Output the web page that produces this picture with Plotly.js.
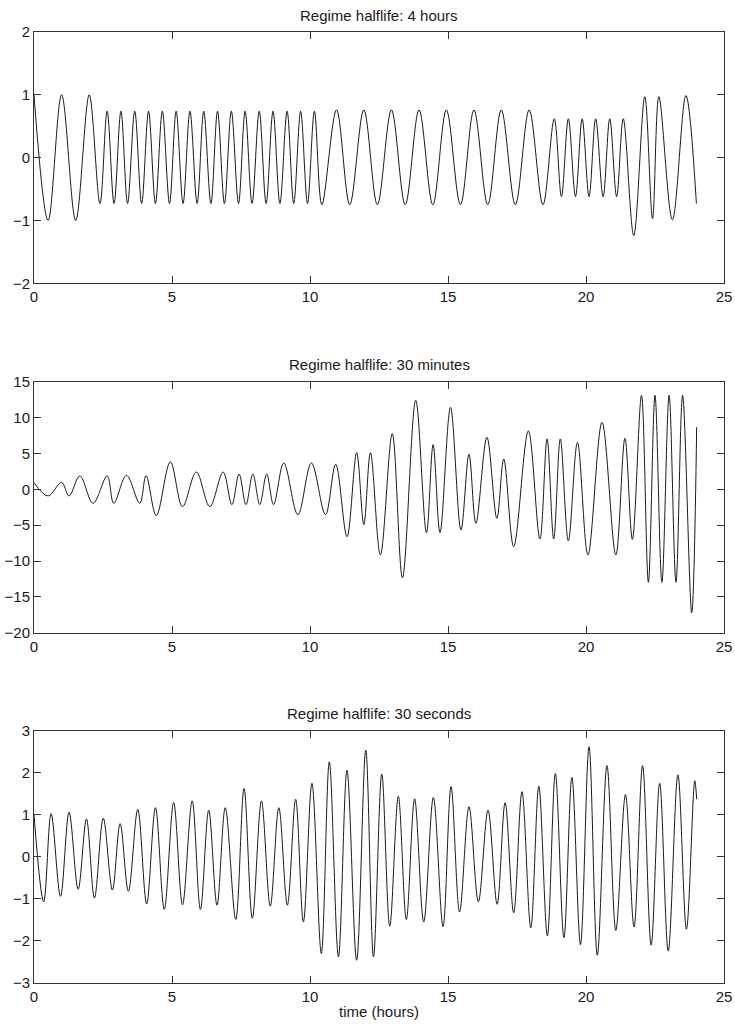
<!DOCTYPE html>
<html>
<head>
<meta charset="utf-8">
<script src="https://cdn.plot.ly/plotly-3.0.1.min.js"></script>
<style>html,body{margin:0;padding:0;background:#fff;}#chart{width:735px;height:1026px;}</style>
</head>
<body>
<div id="chart"></div>
<script>
// Regime halflife: 4 hours (extrema)
var h4Time = [0, 0.51, 1.0, 1.51, 2.0, 2.39, 2.65, 2.90, 3.15, 3.39, 3.65, 3.90, 4.15, 4.40, 4.65, 4.91, 5.15, 5.40, 5.65, 5.91, 6.15, 6.41, 6.65, 6.90, 7.15, 7.41, 7.65, 7.90, 8.16, 8.41, 8.66, 8.91, 9.17, 9.41, 9.66, 9.91, 10.16, 10.43, 10.96, 11.44, 11.95, 12.44, 12.95, 13.45, 13.95, 14.45, 14.94, 15.45, 15.94, 16.44, 16.93, 17.44, 17.94, 18.44, 18.85, 19.11, 19.36, 19.62, 19.86, 20.11, 20.35, 20.62, 20.86, 21.11, 21.35, 21.73, 22.13, 22.41, 22.64, 23.13, 23.62, 24.0];
var h4Value = [1, -1, 1, -1, 1, -0.73, 0.74, -0.73, 0.74, -0.73, 0.74, -0.73, 0.74, -0.73, 0.74, -0.73, 0.74, -0.73, 0.74, -0.73, 0.74, -0.73, 0.74, -0.73, 0.74, -0.73, 0.74, -0.73, 0.74, -0.73, 0.74, -0.73, 0.74, -0.73, 0.74, -0.73, 0.74, -0.75, 0.76, -0.75, 0.76, -0.75, 0.76, -0.75, 0.76, -0.75, 0.76, -0.75, 0.76, -0.75, 0.76, -0.75, 0.76, -0.75, 0.62, -0.62, 0.62, -0.62, 0.62, -0.62, 0.62, -0.62, 0.62, -0.62, 0.62, -1.24, 0.97, -0.97, 0.97, -0.99, 0.99, -0.73];

// Regime halflife: 30 minutes
var m30Time = [0, 0.51, 1.0, 1.27, 1.66, 2.14, 2.65, 2.89, 3.35, 3.83, 4.06, 4.43, 4.94, 5.38, 5.88, 6.37, 6.85, 7.17, 7.43, 7.68, 7.93, 8.18, 8.43, 8.68, 9.05, 9.56, 10.05, 10.56, 10.93, 11.34, 11.69, 11.95, 12.19, 12.55, 12.98, 13.35, 13.83, 14.22, 14.46, 14.71, 15.09, 15.47, 15.76, 16.01, 16.41, 16.77, 17.02, 17.38, 17.91, 18.33, 18.59, 18.83, 19.07, 19.36, 19.69, 20.07, 20.58, 21.08, 21.41, 21.68, 22.01, 22.26, 22.50, 22.75, 23.01, 23.26, 23.50, 23.83, 24.01];
var m30Value = [0.92, -0.93, 0.97, -0.93, 1.86, -1.95, 1.86, -1.95, 1.95, -1.95, 1.9, -3.68, 3.81, -2.42, 2.41, -2.42, 2.41, -2.14, 2.13, -2.14, 2.13, -2.14, 2.13, -2.14, 3.67, -3.54, 3.67, -3.54, 3.49, -6.61, 5.1, -4.93, 5.1, -9.16, 7.75, -12.33, 12.41, -6.05, 6.22, -6.05, 11.43, -5.68, 4.88, -4.75, 7.25, -4.05, 4.23, -8.0, 8.13, -6.93, 7.02, -6.93, 7.02, -7.2, 6.55, -9.16, 9.34, -9.16, 7.11, -6.98, 13.1, -12.97, 13.1, -12.97, 13.1, -12.97, 13.1, -17.2, 8.65];

// Regime halflife: 30 seconds
var s30Time = [0, 0.35, 0.62, 0.96, 1.27, 1.60, 1.90, 2.19, 2.51, 2.84, 3.12, 3.42, 3.76, 4.08, 4.40, 4.72, 5.06, 5.38, 5.73, 6.03, 6.33, 6.63, 6.93, 7.31, 7.61, 7.91, 8.24, 8.56, 8.87, 9.18, 9.48, 9.76, 10.07, 10.41, 10.70, 11.03, 11.34, 11.69, 12.02, 12.30, 12.60, 12.89, 13.20, 13.49, 13.79, 14.12, 14.47, 14.82, 15.11, 15.42, 15.76, 16.10, 16.45, 16.78, 17.07, 17.38, 17.68, 18.00, 18.29, 18.60, 18.89, 19.20, 19.49, 19.80, 20.11, 20.41, 20.76, 21.08, 21.43, 21.74, 22.05, 22.36, 22.67, 22.98, 23.33, 23.64, 23.94, 24.01];
var s30Value = [1.0, -1.07, 1.03, -0.94, 1.06, -0.77, 0.9, -0.98, 0.92, -0.79, 0.79, -0.82, 1.13, -1.12, 1.17, -1.25, 1.29, -1.14, 1.33, -1.25, 1.11, -1.15, 1.17, -1.49, 1.63, -1.46, 1.33, -1.17, 1.17, -1.15, 1.37, -1.55, 1.75, -2.30, 2.26, -2.38, 2.06, -2.46, 2.54, -2.38, 1.97, -1.65, 1.44, -1.49, 1.38, -1.55, 1.41, -1.66, 1.67, -1.31, 1.19, -1.07, 1.11, -1.13, 1.29, -1.33, 1.55, -1.69, 1.68, -1.88, 1.98, -1.92, 1.89, -2.09, 2.62, -2.34, 2.17, -1.75, 1.48, -1.67, 2.17, -2.10, 1.75, -2.24, 1.95, -1.72, 1.81, 1.37];

var xTicks = [0, 5, 10, 15, 20, 25];
var yTicks1 = [-2, -1, 0, 1, 2];
var yTicks2 = [-20, -15, -10, -5, 0, 5, 10, 15];
var yTicks3 = [-3, -2, -1, 0, 1, 2, 3];
var titles = ['Regime halflife: 4 hours', 'Regime halflife: 30 minutes', 'Regime halflife: 30 seconds'];
var xTitle = 'time (hours)';

var lineStyle = {color: '#1a1a1a', width: 1, shape: 'spline', smoothing: 1};
var traces = [
  {x: h4Time, y: h4Value, xaxis: 'x', yaxis: 'y'},
  {x: m30Time, y: m30Value, xaxis: 'x2', yaxis: 'y2'},
  {x: s30Time, y: s30Value, xaxis: 'x3', yaxis: 'y3'}
].map(function (t) {
  t.type = 'scatter'; t.mode = 'lines'; t.line = lineStyle; t.hoverinfo = 'skip';
  return t;
});

var font = {family: '"Liberation Sans", Arial, Helvetica, sans-serif', size: 15, color: '#1a1a1a'};
function xax(anchor, extra) {
  var a = {anchor: anchor, domain: [0, 1], range: [0, 25], tickvals: xTicks, ticks: 'inside', ticklen: 7,
    tickcolor: '#333', showline: true, linecolor: '#333', linewidth: 1, mirror: 'ticks',
    showgrid: false, zeroline: false, tickfont: font, fixedrange: true};
  for (var k in extra) a[k] = extra[k];
  return a;
}
function yax(anchor, domain, range, ticks) {
  return {anchor: anchor, domain: domain, range: range, tickvals: ticks, ticks: 'inside', ticklen: 7,
    tickcolor: '#333', showline: true, linecolor: '#333', linewidth: 1, mirror: 'ticks',
    showgrid: false, zeroline: false, tickfont: font, fixedrange: true};
}
var domains = [[0.7357, 1], [0.3683, 0.6323], [0, 0.2653]];
var layout = {
  width: 735, height: 1026,
  margin: {l: 34, r: 11, t: 32, b: 43},
  paper_bgcolor: '#fff', plot_bgcolor: '#fff',
  showlegend: false,
  font: font,
  xaxis: xax('y', {}),
  yaxis: yax('x', domains[0], [-2, 2], yTicks1),
  xaxis2: xax('y2', {}),
  yaxis2: yax('x2', domains[1], [-20, 15], yTicks2),
  xaxis3: xax('y3', {title: {text: xTitle, font: font, standoff: 2}}),
  yaxis3: yax('x3', domains[2], [-3, 3], yTicks3),
  annotations: titles.map(function (txt, i) {
    return {text: txt, xref: 'paper', yref: 'paper', x: 0.5, y: domains[i][1], xanchor: 'center',
      yanchor: 'middle', yshift: 17, showarrow: false, font: font};
  })
};
Plotly.newPlot('chart', traces, layout, {staticPlot: true, displayModeBar: false});
</script>
</body>
</html>
